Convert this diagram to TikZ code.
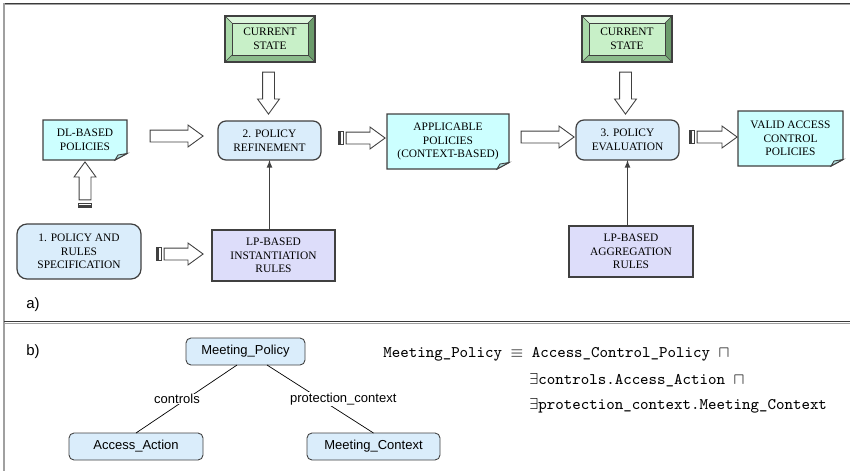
\documentclass[tikz,border=0pt]{standalone}
\usepackage{fontspec}
\setmainfont{Liberation Serif}
\setsansfont{Liberation Sans}
\usepackage{amssymb}
\usepackage{amsmath}
\usepackage{xcolor}
\usepackage{tikz}
\usetikzlibrary{arrows,backgrounds,calc,positioning,shapes.arrows}

\definecolor{boxline}{HTML}{404040}
\definecolor{frameline}{HTML}{3A3A3A}
\definecolor{framegray}{HTML}{A0A0A0}
\definecolor{procblue}{HTML}{DAEDFB}
\definecolor{doccyan}{HTML}{CCFFFF}
\definecolor{docfold}{HTML}{B0DEDE}
\definecolor{rulelav}{HTML}{DDDDFA}
\definecolor{stategreen}{HTML}{C8F0C8}
\definecolor{bevtop}{HTML}{DDF6DD}
\definecolor{bevleft}{HTML}{A9D9A9}
\definecolor{bevright}{HTML}{6B9B6B}
\definecolor{bevbottom}{HTML}{8CBC8C}

\newcommand\boxfont{\fontsize{6.5}{7.8}\selectfont}
\newcommand\termfont{\sffamily\fontsize{7.4}{8.8}\selectfont}
\newcommand\panelfont{\sffamily\fontsize{8.5}{10}\selectfont}
\newcommand\formfont{\ttfamily\fontsize{9.2}{11}\selectfont}

\tikzset{
	procbox/.style={draw=boxline, fill=procblue, line width=0.7pt, rounded corners=1.6mm, align=center, inner sep=0pt, outer sep=0pt, font=\boxfont},
	docbox/.style={align=center, inner sep=0pt, outer sep=0pt, font=\boxfont},
	docline/.style={draw=boxline, line width=0.7pt},
	rulebox/.style={draw=boxline, fill=rulelav, line width=0.7pt, align=center, inner sep=0pt, outer sep=0pt, font=\boxfont},
	statebox/.style={draw=boxline, fill=stategreen, line width=0.6pt, align=center, inner sep=0pt, outer sep=0pt, minimum width=18mm, minimum height=9.2mm, font=\boxfont},
	blockarrow/.style={single arrow, draw=boxline, fill=white, line width=0.5pt, inner sep=0pt, inner ysep=1.1mm, minimum width=0pt, single arrow head extend=1mm, single arrow tip angle=72},
	stripe/.style={draw=boxline, fill=white, line width=0.4pt},
	thinarrow/.style={draw=boxline, line width=0.5pt, -latex},
	term/.style={draw=boxline, fill=procblue, line width=0.5pt, rounded corners=1mm, inner sep=0pt, outer sep=0pt, minimum height=5.4mm, font=\termfont},
	treeline/.style={draw=black, line width=0.4pt},
	formula/.style={anchor=west, inner sep=0pt, font=\formfont}
}

\begin{document}
\begin{tikzpicture}[x=0.2mm,y=-0.2mm]
	\useasboundingbox (0,0) rectangle (850,471);
	\draw[frameline, line width=0.6pt] (4,3.3) -- (850,3.3);
	\draw[framegray, line width=0.5pt] (4,4.6) -- (850,4.6);
	\draw[framegray, line width=0.6pt] (4,3.3) -- (4,471);
	\draw[frameline, line width=0.6pt] (4,321.7) -- (850,321.7);
	\draw[framegray, line width=0.5pt] (4,323) -- (850,323);
	
	\node[statebox] (cs1) at (270,39) {CURRENT\\STATE};
	\node[statebox] (cs2) at (627,39) {CURRENT\\STATE};
	\node[docbox, minimum width=16.8mm, minimum height=8mm] (dl) at (85,140) {DL-BASED\\POLICIES};
	\node[procbox, minimum width=20.6mm, minimum height=7.8mm] (ref) at (269.5,140.5) {2. POLICY\\REFINEMENT};
	\node[docbox, minimum width=24.4mm, minimum height=11mm] (app) at (448,141.5) {APPLICABLE\\POLICIES\\(CONTEXT-BASED)};
	\node[procbox, minimum width=20.6mm, minimum height=8mm] (eval) at (627.5,140) {3. POLICY\\EVALUATION};
	\node[docbox, minimum width=21mm, minimum height=11mm] (valid) at (790.5,138.5) {VALID ACCESS\\CONTROL\\POLICIES};
	\node[procbox, rounded corners=2mm, minimum width=24.8mm, minimum height=11mm] (spec) at (79,251.5) {1. POLICY AND\\RULES\\SPECIFICATION};
	\node[rulebox, minimum width=24.6mm, minimum height=10.2mm] (lpi) at (273.5,255.5) {LP-BASED\\INSTANTIATION\\RULES};
	\node[rulebox, minimum width=24.8mm, minimum height=10.2mm] (lpa) at (631,251.5) {LP-BASED\\AGGREGATION\\RULES};
	
	\begin{scope}[on background layer]
		\foreach \d in {dl,app,valid} {
			\draw[docline, fill=doccyan] (\d.north west) -- (\d.north east) -- ([yshift=1.3mm]\d.south east) -- ([xshift=-2.4mm]\d.south east) -- (\d.south west) -- cycle;
			\draw[docline, fill=docfold, line width=0.5pt] ([yshift=1.3mm]\d.south east) -- ([xshift=-2.4mm]\d.south east) -- ([xshift=-1.8mm,yshift=1mm]\d.south east) -- cycle;
		}
	\end{scope}
	
	\foreach \s in {cs1,cs2} {
		\fill[bevtop] (\s.north west) -- (\s.north east) -- ([shift={(-1.4mm,-1.4mm)}]\s.north east) -- ([shift={(1.4mm,-1.4mm)}]\s.north west) -- cycle;
		\fill[bevleft] (\s.north west) -- ([shift={(1.4mm,-1.4mm)}]\s.north west) -- ([shift={(1.4mm,1.4mm)}]\s.south west) -- (\s.south west) -- cycle;
		\fill[bevright] (\s.north east) -- ([shift={(-1.4mm,-1.4mm)}]\s.north east) -- ([shift={(-1.4mm,1.4mm)}]\s.south east) -- (\s.south east) -- cycle;
		\fill[bevbottom] (\s.south west) -- ([shift={(1.4mm,1.4mm)}]\s.south west) -- ([shift={(-1.4mm,1.4mm)}]\s.south east) -- (\s.south east) -- cycle;
		\draw[boxline, line width=0.6pt] (\s.north west) rectangle (\s.south east);
		\draw[boxline, line width=0.4pt] ([shift={(1.4mm,-1.4mm)}]\s.north west) rectangle ([shift={(-1.4mm,1.4mm)}]\s.south east);
		\draw[boxline, line width=0.3pt] (\s.north west) -- ++(1.4mm,-1.4mm) (\s.north east) -- ++(-1.4mm,-1.4mm) (\s.south west) -- ++(1.4mm,1.4mm) (\s.south east) -- ++(-1.4mm,1.4mm);
	}
	
	\node[blockarrow, minimum height=10.6mm] (a1) at (172.5,136) {};
	\node[blockarrow, minimum height=7.8mm] (a2) at (361.5,138) {};
	\node[blockarrow, minimum height=10.6mm] (a3) at (543.5,137) {};
	\node[blockarrow, minimum height=8mm] (a4) at (713,137) {};
	\node[blockarrow, minimum height=7.8mm] (a5) at (179.5,254) {};
	\node[blockarrow, minimum height=7.6mm, rotate=90] (a6) at (85,185) {};
	\node[blockarrow, minimum height=8.4mm, rotate=-90] (a7) at (268.5,89) {};
	\node[blockarrow, minimum height=8.4mm, rotate=-90] (a8) at (625.5,89) {};
	\foreach \a in {a2,a4,a5} {
		\draw[stripe] ([xshift=-1.4mm]\a.before tail) rectangle ([xshift=-1.2mm]\a.after tail);
		\draw[stripe] ([xshift=-1mm]\a.before tail) rectangle ([xshift=-0.5mm]\a.after tail);
	}
	\draw[stripe] ([yshift=-1.4mm]a6.before tail) rectangle ([yshift=-1.2mm]a6.after tail);
	\draw[stripe] ([yshift=-1mm]a6.before tail) rectangle ([yshift=-0.5mm]a6.after tail);
	
	\draw[thinarrow] (lpi.north -| ref.south) -- (ref.south);
	\draw[thinarrow] (lpa.north -| eval.south) -- (eval.south);
	
	\node[font=\panelfont, inner sep=0pt] (pa) at (33,305) {a)};
	\node[font=\panelfont, inner sep=0pt] (pb) at (33,352) {b)};
	
	\node[term, minimum width=23.8mm] (mp) at (245.5,351.5) {Meeting\_Policy};
	\node[term, minimum width=26.8mm] (aa) at (136,446.5) {Access\_Action};
	\node[term, minimum width=26.6mm] (mc) at (373.5,446.5) {Meeting\_Context};
	\draw[treeline] ([xshift=-1.7mm]mp.south) -- node[fill=white, xshift=-1.9mm, inner sep=0.3pt, font=\termfont] {controls} (aa.north);
	\draw[treeline] ([xshift=4.3mm]mp.south) -- node[fill=white, xshift=4.6mm, inner sep=0.3pt, font=\termfont] {protection\_context} (mc.north);
	
	\node[formula] (f1) at (383,354) {Meeting\_Policy $\equiv$ Access\_Control\_Policy $\sqcap$};
	\node[formula] (f2) at (529,380) {$\exists$controls.Access\_Action $\sqcap$};
	\node[formula] (f3) at (529,406) {$\exists$protection\_context.Meeting\_Context};
\end{tikzpicture}
\end{document}
